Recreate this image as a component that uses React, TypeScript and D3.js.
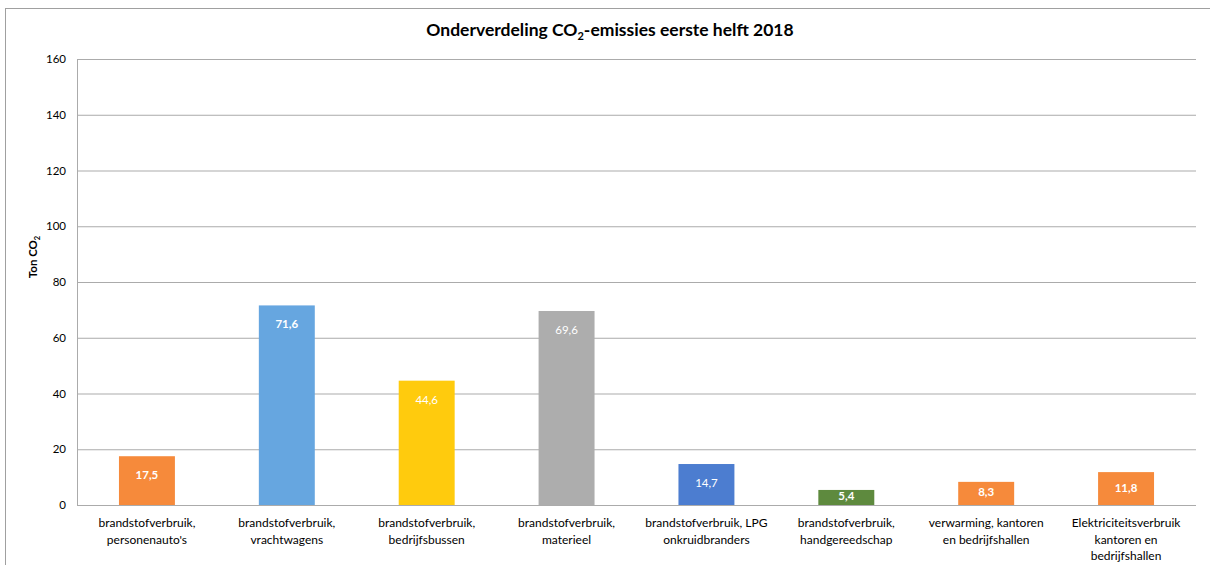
import React from 'react';
import * as d3 from 'd3';

// categories (line breaks as in the chart)
const categories: string[][] = [
  ['brandstofverbruik,', "personenauto's"],
  ['brandstofverbruik,', 'vrachtwagens'],
  ['brandstofverbruik,', 'bedrijfsbussen'],
  ['brandstofverbruik,', 'materieel'],
  ['brandstofverbruik, LPG', 'onkruidbranders'],
  ['brandstofverbruik,', 'handgereedschap'],
  ['verwarming, kantoren', 'en bedrijfshallen'],
  ['Elektriciteitsverbruik', 'kantoren en', 'bedrijfshallen'],
];
const values = [17.5, 71.6, 44.6, 69.6, 14.7, 5.4, 8.3, 11.8];
const valueLabels = ['17,5', '71,6', '44,6', '69,6', '14,7', '5,4', '8,3', '11,8'];
const boldLabels = [true, true, false, false, false, true, true, true];
const barColors = ['#F68A3B', '#66A6E0', '#FFCB0D', '#ADADAD', '#4C7DD0', '#5E8A3E', '#F68A3B', '#F68A3B'];
const yTicks = [0, 20, 40, 60, 80, 100, 120, 140, 160];

const W = 1210;
const H = 565;
const font = 'Lato, "Open Sans", sans-serif';

export default function App() {
  const left = 77;
  const right = 1196;
  const top = 59;
  const bottom = 505;

  const x = d3.scaleBand<number>()
    .domain(d3.range(values.length))
    .range([left, right])
    .paddingInner(0.6)
    .paddingOuter(0.3);

  const y = d3.scaleLinear().domain([0, 160]).range([bottom, top]);

  return (
    <svg width={W} height={H} style={{ position: 'absolute', left: 0, top: 0 }} fontFamily={font}>
      <rect x={0} y={0} width={W} height={H} fill="#fff" />
      {/* chart border */}
      <rect x={5.5} y={8.5} width={W + 20} height={H + 20} fill="none" stroke="#a0a0a0" />

      {/* title */}
      <text x={610} y={36} textAnchor="middle" fontSize={17.5} fontWeight="bold" fill="#000">
        Onderverdeling CO<tspan fontSize={11} dy={4}>2</tspan>
        <tspan dy={-4}>-emissies eerste helft 2018</tspan>
      </text>

      {/* grid */}
      {yTicks.map((t) => (
        <g key={t}>
          <line x1={left} x2={right} y1={y(t) + 0.5} y2={y(t) + 0.5} stroke="#ababab" strokeWidth={1} />
          <text x={66} y={y(t)} dy="0.35em" textAnchor="end" fontSize={11.5} fill="#000">
            {t}
          </text>
        </g>
      ))}
      <line x1={left + 0.5} x2={left + 0.5} y1={top} y2={bottom} stroke="#ababab" />

      {/* y axis title */}
      <text transform={`translate(37,${(top + bottom) / 2 - 25}) rotate(-90)`} textAnchor="middle"
        fontSize={11.5} fontWeight="bold" fill="#000">
        Ton CO<tspan fontSize={7.5} dy={3}>2</tspan>
      </text>

      {/* bars */}
      {values.map((v, i) => {
        const bx = x(i) as number;
        const by = y(v);
        const bh = bottom - by;
        const ly = bh > 40 ? by + 19 : by + bh / 2 - 1;
        return (
          <g key={i}>
            <rect x={bx} y={by} width={x.bandwidth()} height={bh} fill={barColors[i]} />
            <text x={bx + x.bandwidth() / 2} y={ly} dy="0.35em" textAnchor="middle" fontSize={11.5}
              fontWeight={boldLabels[i] ? 'bold' : 'normal'} fill="#fff">
              {valueLabels[i]}
            </text>
          </g>
        );
      })}
      <line x1={left} x2={right} y1={bottom + 0.5} y2={bottom + 0.5} stroke="#ababab" />

      {/* category labels */}
      {categories.map((lines, i) => (
        <text key={i} x={(x(i) as number) + x.bandwidth() / 2} y={527} textAnchor="middle" fontSize={12} fill="#000">
          {lines.map((l, j) => (
            <tspan key={j} x={(x(i) as number) + x.bandwidth() / 2} dy={j === 0 ? 0 : 16.5}>{l}</tspan>
          ))}
        </text>
      ))}
    </svg>
  );
}
